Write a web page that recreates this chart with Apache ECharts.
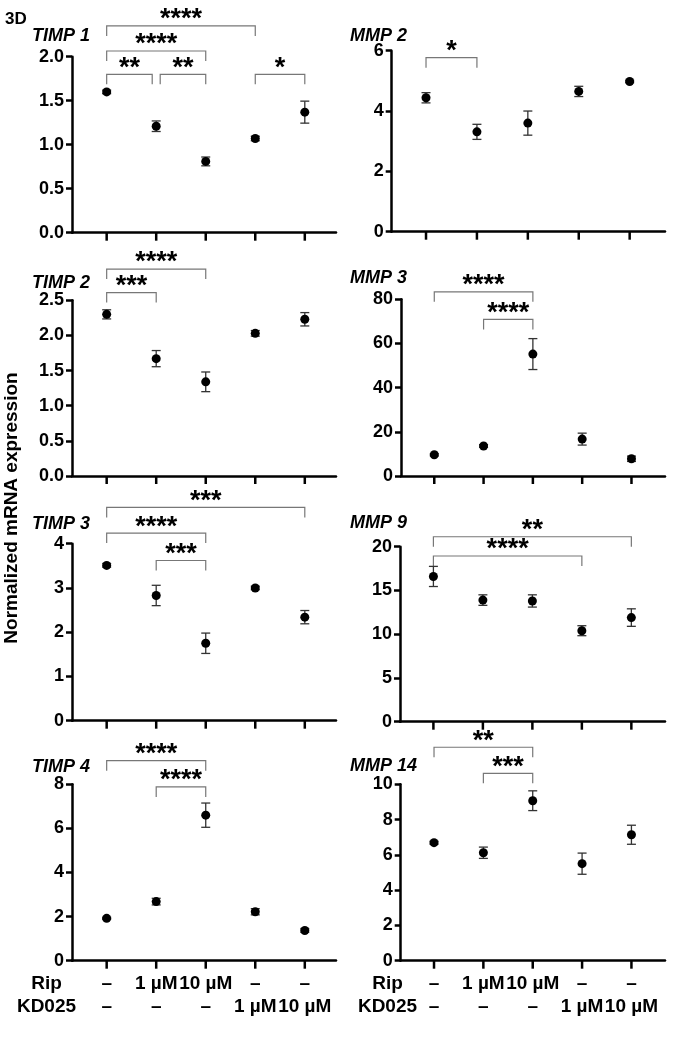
<!DOCTYPE html>
<html>
<head>
<meta charset="utf-8">
<script src="https://cdn.jsdelivr.net/npm/echarts@6/dist/echarts.min.js"></script>
<style>
  html, body { margin: 0; padding: 0; background: #fff; }
  #chart { width: 676px; height: 1040px; }
</style>
</head>
<body>
<div id="chart"></div>
<script>
const FONT = '"Liberation Sans", Arial, sans-serif'

// treatment groups (x positions) and the two label rows under the bottom panels
const groups = [0, 1, 2, 3, 4]
const ripRow = ['–', '1 µM', '10 µM', '–', '–']
const kdRow = ['–', '–', '–', '1 µM', '10 µM']

// mean and error per group; brackets are [from, to, height, stars]
const timp1Mean = [1.60, 1.21, 0.81, 1.07, 1.37]
const timp1Err = [0.02, 0.06, 0.05, 0.025, 0.125]
const timp1Sig = [[0, 1, 1.80, '**'], [1, 2, 1.80, '**'], [0, 2, 2.065, '****'], [0, 3, 2.35, '****'], [3, 4, 1.80, '*']]

const mmp2Mean = [4.44, 3.31, 3.60, 4.65, 4.98]
const mmp2Err = [0.17, 0.25, 0.40, 0.17, 0.04]
const mmp2Sig = [[0, 1, 5.77, '*']]

const timp2Mean = [2.30, 1.67, 1.34, 2.03, 2.23]
const timp2Err = [0.065, 0.115, 0.14, 0.04, 0.095]
const timp2Sig = [[0, 1, 2.61, '***'], [0, 2, 2.945, '****']]

const mmp3Mean = [9.6, 13.6, 55.2, 16.7, 7.8]
const mmp3Err = [0.5, 0.6, 7.0, 2.7, 1.2]
const mmp3Sig = [[0, 2, 83.4, '****'], [1, 2, 70.9, '****']]

const timp3Mean = [3.51, 2.83, 1.75, 3.00, 2.34]
const timp3Err = [0.04, 0.23, 0.23, 0.04, 0.15]
const timp3Sig = [[1, 2, 3.62, '***'], [0, 2, 4.24, '****'], [0, 4, 4.82, '***']]

const mmp9Mean = [16.6, 13.9, 13.8, 10.4, 11.9]
const mmp9Err = [1.15, 0.6, 0.7, 0.57, 1.0]
const mmp9Sig = [[0, 3, 18.94, '****'], [0, 4, 21.14, '**']]

const timp4Mean = [1.92, 2.68, 6.60, 2.22, 1.37]
const timp4Err = [0.05, 0.15, 0.55, 0.14, 0.08]
const timp4Sig = [[1, 2, 7.88, '****'], [0, 2, 9.07, '****']]

const mmp14Mean = [6.69, 6.12, 9.07, 5.50, 7.14]
const mmp14Err = [0.08, 0.32, 0.56, 0.60, 0.54]
const mmp14Sig = [[1, 2, 10.62, '***'], [0, 2, 12.1, '**']]

// layout: box = [axis x, top y, right x, zero y]
const LEFT_X = [-0.70, 4.63]
const RIGHT_X = [-0.675, 4.68]
const panels = [
  { name: 'TIMP 1', mean: timp1Mean, err: timp1Err, sig: timp1Sig, yMax: 2, yStep: 0.5, dec: 1, box: [72, 56.7, 336, 232.7], xr: LEFT_X, ty: 36 },
  { name: 'MMP 2', mean: mmp2Mean, err: mmp2Err, sig: mmp2Sig, yMax: 6, yStep: 2, dec: 0, box: [391.7, 50.7, 665, 231.7], xr: [-0.674, 4.694], ty: 36 },
  { name: 'TIMP 2', mean: timp2Mean, err: timp2Err, sig: timp2Sig, yMax: 2.5, yStep: 0.5, dec: 1, box: [72, 300.3, 336, 476], xr: LEFT_X, ty: 283 },
  { name: 'MMP 3', mean: mmp3Mean, err: mmp3Err, sig: mmp3Sig, yMax: 80, yStep: 20, dec: 0, box: [401, 299.3, 665, 476], xr: RIGHT_X, ty: 278.5 },
  { name: 'TIMP 3', mean: timp3Mean, err: timp3Err, sig: timp3Sig, yMax: 4, yStep: 1, dec: 0, box: [72, 543.7, 336, 720.7], xr: LEFT_X, ty: 524.5 },
  { name: 'MMP 9', mean: mmp9Mean, err: mmp9Err, sig: mmp9Sig, yMax: 20, yStep: 5, dec: 0, box: [400, 546.7, 665, 721.7], xr: RIGHT_X, ty: 523 },
  { name: 'TIMP 4', mean: timp4Mean, err: timp4Err, sig: timp4Sig, yMax: 8, yStep: 2, dec: 0, box: [72, 784.3, 336, 960.7], xr: LEFT_X, ty: 767, bottom: true },
  { name: 'MMP 14', mean: mmp14Mean, err: mmp14Err, sig: mmp14Sig, yMax: 10, yStep: 2, dec: 0, box: [400.7, 784.3, 665, 960.7], xr: RIGHT_X, ty: 766, bottom: true }
]

const LEG = 10
const axisStyle = { color: '#000', width: 2.5 }

function errorItem (params, api) {
  const x = api.value(0), m = api.value(1), e = api.value(2)
  const hi = api.coord([x, m + e])
  const lo = api.coord([x, m - e])
  const w = 4.5
  const st = { stroke: '#333', lineWidth: 1.3 }
  return {
    type: 'group',
    children: [
      { type: 'line', shape: { x1: hi[0], y1: hi[1], x2: lo[0], y2: lo[1] }, style: st },
      { type: 'line', shape: { x1: hi[0] - w, y1: hi[1], x2: hi[0] + w, y2: hi[1] }, style: st },
      { type: 'line', shape: { x1: lo[0] - w, y1: lo[1], x2: lo[0] + w, y2: lo[1] }, style: st }
    ]
  }
}

function tickItem (params, api) {
  const p = api.coord([api.value(0), 0])
  return { type: 'line', shape: { x1: p[0], y1: p[1], x2: p[0], y2: p[1] + 8 }, style: { stroke: '#000', lineWidth: 2.5 } }
}

function bracketItem (list) {
  return function (params, api) {
    const b = list[params.dataIndex]
    const p1 = api.coord([b[0], b[2]])
    const p2 = api.coord([b[1], b[2]])
    let x1 = p1[0], x2 = p2[0]
    const y = p1[1]
    // neighbouring brackets at the same height leave a small gap
    list.forEach((o, j) => {
      if (j === params.dataIndex || o[2] !== b[2]) return
      if (o[1] === b[0]) x1 += 4
      if (o[0] === b[1]) x2 -= 4
    })
    return {
      type: 'group',
      children: [
        { type: 'polyline', shape: { points: [[x1, y + LEG], [x1, y], [x2, y], [x2, y + LEG]] }, style: { stroke: '#777', lineWidth: 1.2, fill: null } },
        { type: 'text', x: (x1 + x2) / 2, y: y - 6, style: { text: b[3], font: 'bold 27px ' + FONT, align: 'center', verticalAlign: 'middle', fill: '#000' } }
      ]
    }
  }
}

function rowItem (params, api) {
  const i = api.value(0)
  const p = api.coord([i, 0])
  const st = { font: 'bold 19px ' + FONT, align: 'center', verticalAlign: 'middle', fill: '#000' }
  return {
    type: 'group',
    children: [
      { type: 'text', x: p[0], y: p[1] + 23, style: Object.assign({ text: ripRow[i] }, st) },
      { type: 'text', x: p[0], y: p[1] + 46, style: Object.assign({ text: kdRow[i] }, st) }
    ]
  }
}

const grid = [], xAxis = [], yAxis = [], series = []
const graphic = [
  { type: 'text', x: 5, y: 19, style: { text: '3D', font: 'bold 17px ' + FONT, fill: '#000', verticalAlign: 'middle' } },
  { type: 'text', x: 12, y: 508, rotation: Math.PI / 2, style: { text: 'Normalized mRNA expression', font: 'bold 19px ' + FONT, fill: '#000', align: 'center', verticalAlign: 'middle' } }
]

panels.forEach((p, i) => {
  const [l, t, r, b] = p.box
  grid.push({ left: l, top: t, width: r - l, height: b - t, containLabel: false })
  xAxis.push({
    gridIndex: i, type: 'value', min: p.xr[0], max: p.xr[1],
    axisLine: { show: true, onZero: false, lineStyle: axisStyle },
    axisTick: { show: false }, axisLabel: { show: false }, splitLine: { show: false }
  })
  yAxis.push({
    gridIndex: i, type: 'value', min: 0, max: p.yMax, interval: p.yStep,
    axisLine: { show: true, onZero: false, lineStyle: axisStyle },
    axisTick: { show: true, length: 6, lineStyle: axisStyle },
    axisLabel: {
      color: '#000', fontSize: 18, fontWeight: 'bold', fontFamily: FONT, margin: 8,
      formatter: v => v.toFixed(p.dec)
    },
    splitLine: { show: false }
  })
  series.push({
    type: 'custom', xAxisIndex: i, yAxisIndex: i, clip: false, silent: true,
    renderItem: tickItem, data: groups.map(g => [g])
  })
  series.push({
    type: 'custom', xAxisIndex: i, yAxisIndex: i, clip: false, silent: true, z: 3,
    renderItem: errorItem, data: groups.map(g => [g, p.mean[g], p.err[g]])
  })
  series.push({
    type: 'scatter', xAxisIndex: i, yAxisIndex: i, symbol: 'circle', symbolSize: 9, silent: true, z: 4,
    itemStyle: { color: '#000', opacity: 1 }, data: groups.map(g => [g, p.mean[g]])
  })
  series.push({
    type: 'custom', xAxisIndex: i, yAxisIndex: i, clip: false, silent: true,
    renderItem: bracketItem(p.sig), data: p.sig.map(s => [s[0], s[2]])
  })
  if (p.bottom) {
    series.push({
      type: 'custom', xAxisIndex: i, yAxisIndex: i, clip: false, silent: true,
      renderItem: rowItem, data: groups.map(g => [g])
    })
    const cx = i % 2 === 0 ? 46.5 : 387.5
    graphic.push({ type: 'text', x: cx, y: 983.5, style: { text: 'Rip', font: 'bold 19px ' + FONT, fill: '#000', align: 'center', verticalAlign: 'middle' } })
    graphic.push({ type: 'text', x: cx, y: 1006.7, style: { text: 'KD025', font: 'bold 19px ' + FONT, fill: '#000', align: 'center', verticalAlign: 'middle' } })
  }
  graphic.push({
    type: 'text', x: i % 2 === 0 ? 32 : 350, y: p.ty,
    style: { text: p.name, font: 'italic bold 18px ' + FONT, fill: '#000', verticalAlign: 'middle' }
  })
})

const myChart = echarts.init(document.getElementById('chart'), null, { renderer: 'canvas' })
myChart.setOption({
  animation: false,
  backgroundColor: '#fff',
  grid, xAxis, yAxis, series, graphic
})
</script>
</body>
</html>
